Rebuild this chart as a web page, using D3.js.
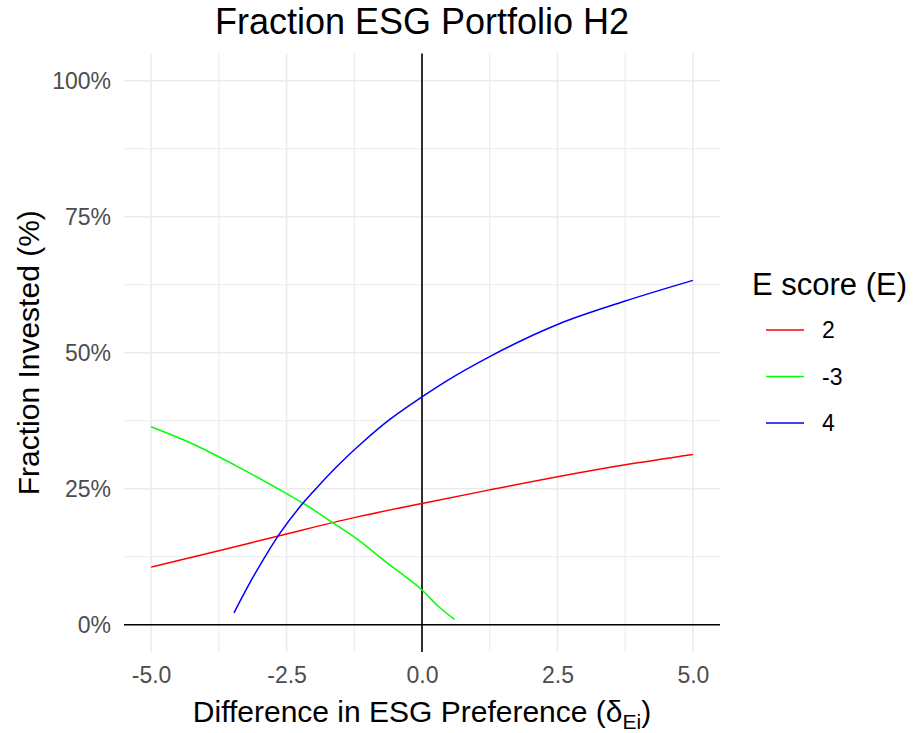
<!DOCTYPE html>
<html>
<head>
<meta charset="utf-8">
<script src="https://cdn.jsdelivr.net/npm/d3@7"></script>
<style>
  html, body { margin: 0; padding: 0; background: #fff; }
  svg { display: block; font-family: "Liberation Sans", Arial, sans-serif; }
</style>
</head>
<body>
<svg id="chart" width="914" height="733"></svg>
<script>
// Fraction invested in the ESG portfolio versus preference difference, per E score
const seriesLabels = ["2", "-3", "4"];
const seriesColors = ["#FF0000", "#00FF00", "#0000FF"];

const deltaE2 = [-5, -3.75, -2.5, -1.25, 0, 1.25, 2.5, 3.75, 5];
const fracE2  = [0.106, 0.136, 0.167, 0.197, 0.223, 0.248, 0.272, 0.294, 0.313];

const deltaEm3 = [-5, -4.29, -3.37, -2.5, -2.17, -1.65, -1.2, -0.7, -0.3, 0, 0.3, 0.6];
const fracEm3  = [0.364, 0.335, 0.289, 0.241, 0.222, 0.188, 0.158, 0.118, 0.088, 0.064, 0.034, 0.010];

const deltaE4 = [-3.47, -3.15, -2.94, -2.63, -2.26, -1.95, -1.58, -1.09, -0.6, 0, 0.45, 1.25, 2.5, 3.75, 5];
const fracE4  = [0.022, 0.082, 0.118, 0.167, 0.216, 0.251, 0.290, 0.336, 0.377, 0.419, 0.448, 0.493, 0.552, 0.595, 0.633];

const xTicks = [-5, -2.5, 0, 2.5, 5];
const xMinor = [-3.75, -1.25, 1.25, 3.75];
const yTicks = [0, 0.25, 0.5, 0.75, 1];
const yMinor = [0.125, 0.375, 0.625, 0.875];

const chartTitle = "Fraction ESG Portfolio H2";
const xTitle = "Difference in ESG Preference (δ";
const xTitleSub = "Ei";
const yTitle = "Fraction Invested (%)";
const legendTitle = "E score (E)";

const series = [
  { label: seriesLabels[0], color: seriesColors[0], x: deltaE2,  y: fracE2 },
  { label: seriesLabels[1], color: seriesColors[1], x: deltaEm3, y: fracEm3 },
  { label: seriesLabels[2], color: seriesColors[2], x: deltaE4,  y: fracE4 }
];

const svg = d3.select("#chart");
const panel = { left: 124, right: 720, top: 53.5, bottom: 652 };

const x = d3.scaleLinear().domain([-5.5, 5.5]).range([panel.left, panel.right]);
const y = d3.scaleLinear().domain([-0.05, 1.05]).range([panel.bottom, panel.top]);

const grid = svg.append("g");
grid.selectAll(".xminor").data(xMinor).join("line")
  .attr("x1", d => x(d)).attr("x2", d => x(d))
  .attr("y1", panel.top).attr("y2", panel.bottom)
  .attr("stroke", "#EBEBEB").attr("stroke-width", 1.1);
grid.selectAll(".yminor").data(yMinor).join("line")
  .attr("y1", d => y(d)).attr("y2", d => y(d))
  .attr("x1", panel.left).attr("x2", panel.right)
  .attr("stroke", "#EBEBEB").attr("stroke-width", 1.1);
grid.selectAll(".xmajor").data(xTicks).join("line")
  .attr("x1", d => x(d)).attr("x2", d => x(d))
  .attr("y1", panel.top).attr("y2", panel.bottom)
  .attr("stroke", "#EBEBEB").attr("stroke-width", 1.6);
grid.selectAll(".ymajor").data(yTicks).join("line")
  .attr("y1", d => y(d)).attr("y2", d => y(d))
  .attr("x1", panel.left).attr("x2", panel.right)
  .attr("stroke", "#EBEBEB").attr("stroke-width", 1.6);

// reference lines at zero
svg.append("line")
  .attr("x1", panel.left).attr("x2", panel.right)
  .attr("y1", y(0)).attr("y2", y(0))
  .attr("stroke", "#000").attr("stroke-width", 1.6);
svg.append("line")
  .attr("x1", x(0)).attr("x2", x(0))
  .attr("y1", panel.top).attr("y2", panel.bottom)
  .attr("stroke", "#000").attr("stroke-width", 1.6);

// series
const line = d3.line().x(d => x(d[0])).y(d => y(d[1])).curve(d3.curveMonotoneX);
svg.append("g").selectAll("path").data(series).join("path")
  .attr("d", s => line(s.x.map((v, i) => [v, s.y[i]])))
  .attr("fill", "none")
  .attr("stroke", s => s.color)
  .attr("stroke-width", 1.5);

// axes (text only, as in a minimal theme)
const fmtX = d => d3.format(".1f")(d).replace("\u2212", "-");
const xAxis = svg.append("g")
  .attr("transform", `translate(0,${panel.bottom})`)
  .call(d3.axisBottom(x).tickValues(xTicks).tickFormat(fmtX).tickSize(0).tickPadding(15));
const yAxis = svg.append("g")
  .attr("transform", `translate(${panel.left},0)`)
  .call(d3.axisLeft(y).tickValues(yTicks).tickFormat(d3.format(".0%")).tickSize(0).tickPadding(13));
[xAxis, yAxis].forEach(a => {
  a.select(".domain").remove();
  a.selectAll("text")
    .attr("fill", "#4D4D4D")
    .style("font-size", "23px")
    .style("font-family", "'Liberation Sans', Arial, sans-serif");
});
xAxis.selectAll("text").attr("dy", "0.71em");

// titles
svg.append("text")
  .attr("x", (panel.left + panel.right) / 2).attr("y", 34)
  .attr("text-anchor", "middle")
  .style("font-size", "36px")
  .text(chartTitle);

const xt = svg.append("text")
  .attr("x", (panel.left + panel.right) / 2).attr("y", 722)
  .attr("text-anchor", "middle")
  .style("font-size", "30px");
xt.append("tspan").text(xTitle);
xt.append("tspan").attr("dy", 7).style("font-size", "21px").text(xTitleSub);
xt.append("tspan").attr("dy", -7).text(")");

svg.append("text")
  .attr("transform", `translate(39,${(panel.top + panel.bottom) / 2}) rotate(-90)`)
  .attr("text-anchor", "middle")
  .style("font-size", "30px")
  .text(yTitle);

// legend
const legend = svg.append("g").attr("transform", "translate(752,0)");
legend.append("text")
  .attr("x", 0).attr("y", 295)
  .style("font-size", "31px")
  .text(legendTitle);
const items = legend.selectAll(".item").data(series).join("g")
  .attr("transform", (d, i) => `translate(0,${330 + i * 46.5})`);
items.append("line")
  .attr("x1", 14).attr("x2", 52).attr("y1", 0).attr("y2", 0)
  .attr("stroke", d => d.color).attr("stroke-width", 1.5);
items.append("text")
  .attr("x", 70).attr("y", 0).attr("dy", "0.36em")
  .style("font-size", "23px")
  .text(d => d.label);
</script>
</body>
</html>
